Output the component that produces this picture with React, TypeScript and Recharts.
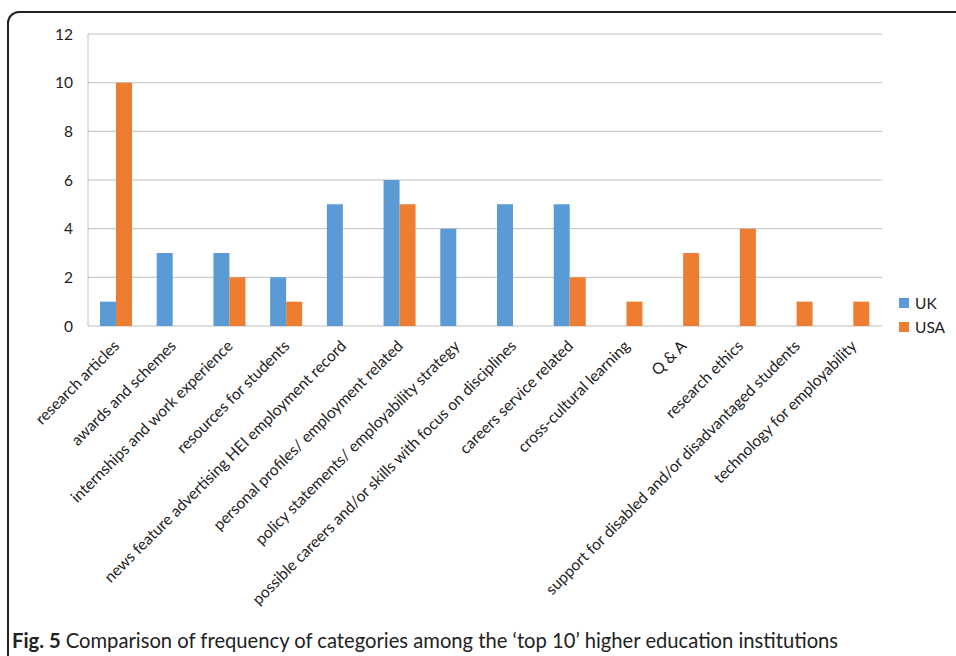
import React from "react";
import { BarChart, Bar, XAxis, YAxis, CartesianGrid } from "recharts";

const categories = [
  "research articles",
  "awards and schemes",
  "internships and work experience",
  "resources for students",
  "news feature advertising HEI employment record",
  "personal profiles/ employment related",
  "policy statements/ employability strategy",
  "possible careers and/or skills with focus on disciplines",
  "careers service related",
  "cross-cultural learning",
  "Q & A",
  "research ethics",
  "support for disabled and/or disadvantaged students",
  "technology for employability",
];

const ukCounts = [1, 3, 3, 2, 5, 6, 4, 5, 5, 0, 0, 0, 0, 0];
const usaCounts = [10, 0, 2, 1, 0, 5, 0, 0, 2, 1, 3, 4, 1, 1];

const yTicks = [0, 2, 4, 6, 8, 10, 12];
const edgeTicks = categories.map((_, i) => i).concat(categories.length);

const UK_BLUE = "#5b9bd5";
const USA_ORANGE = "#ed7d31";
const GRID = "#bfbfbf";
const FONT = "Lato, 'Open Sans', sans-serif";

const rows = categories.map((name, i) => ({
  name,
  UK: ukCounts[i],
  USA: usaCounts[i],
}));

const seriesKey = [
  { label: "UK", color: UK_BLUE },
  { label: "USA", color: USA_ORANGE },
];

function SlantedTick(props: any) {
  const { x, y, payload } = props;
  return (
    <g transform={`translate(${x + 4},${y + 13})`}>
      <text
        transform="rotate(-45)"
        textAnchor="end"
        fontSize={15.6}
        fontFamily={FONT}
        fill="#222"
      >
        {payload.value}
      </text>
    </g>
  );
}

export default function App() {
  return (
    <div
      style={{
        position: "absolute",
        left: 0,
        top: 0,
        width: 956,
        height: 656,
        overflow: "hidden",
        background: "#fff",
      }}
    >
      {/* figure frame, open to the right and bottom */}
      <div
        style={{
          position: "absolute",
          left: 7,
          top: 11,
          width: 1000,
          height: 700,
          border: "2px solid #222",
          borderRadius: 12,
        }}
      />
      <div style={{ position: "absolute", left: 0, top: 0 }}>
        <BarChart
          width={956}
          height={656}
          data={rows}
          margin={{ top: 34, right: 74, bottom: 0, left: 28 }}
          barGap={0}
          barSize={16}
        >
          <CartesianGrid vertical={false} stroke={GRID} strokeWidth={1} />
          {/* short ticks on the category boundaries */}
          <XAxis
            xAxisId="edge"
            type="number"
            domain={[0, categories.length]}
            ticks={edgeTicks}
            height={0}
            tick={false}
            tickSize={5}
            axisLine={{ stroke: GRID }}
            tickLine={{ stroke: GRID }}
          />
          <XAxis
            xAxisId="cat"
            dataKey="name"
            height={330}
            interval={0}
            axisLine={false}
            tickLine={false}
            tick={<SlantedTick />}
          />
          <YAxis
            width={60}
            domain={[0, 12]}
            ticks={yTicks}
            tickSize={0}
            tickMargin={15}
            axisLine={{ stroke: GRID }}
            tickLine={false}
            tick={{ fontSize: 15.5, fontFamily: FONT, fill: "#222" }}
          />
          <Bar
            xAxisId="cat"
            dataKey="UK"
            fill={UK_BLUE}
            isAnimationActive={false}
          />
          <Bar
            xAxisId="cat"
            dataKey="USA"
            fill={USA_ORANGE}
            isAnimationActive={false}
          />
        </BarChart>
      </div>
      {/* series key */}
      <div
        style={{
          position: "absolute",
          left: 899,
          top: 291,
          fontFamily: FONT,
          fontSize: 15.5,
          color: "#222",
        }}
      >
        {seriesKey.map((it) => (
          <div
            key={it.label}
            style={{ display: "flex", alignItems: "center", height: 24 }}
          >
            <span
              style={{
                width: 10,
                height: 10,
                background: it.color,
                marginRight: 6,
                display: "inline-block",
              }}
            />
            {it.label}
          </div>
        ))}
      </div>
      <div
        style={{
          position: "absolute",
          left: 12,
          top: 628,
          fontFamily: FONT,
          fontSize: 20.2,
          color: "#222",
          whiteSpace: "nowrap",
        }}
      >
        <b>Fig. 5</b> Comparison of frequency of categories among the ‘top 10’
        higher education institutions
      </div>
    </div>
  );
}
